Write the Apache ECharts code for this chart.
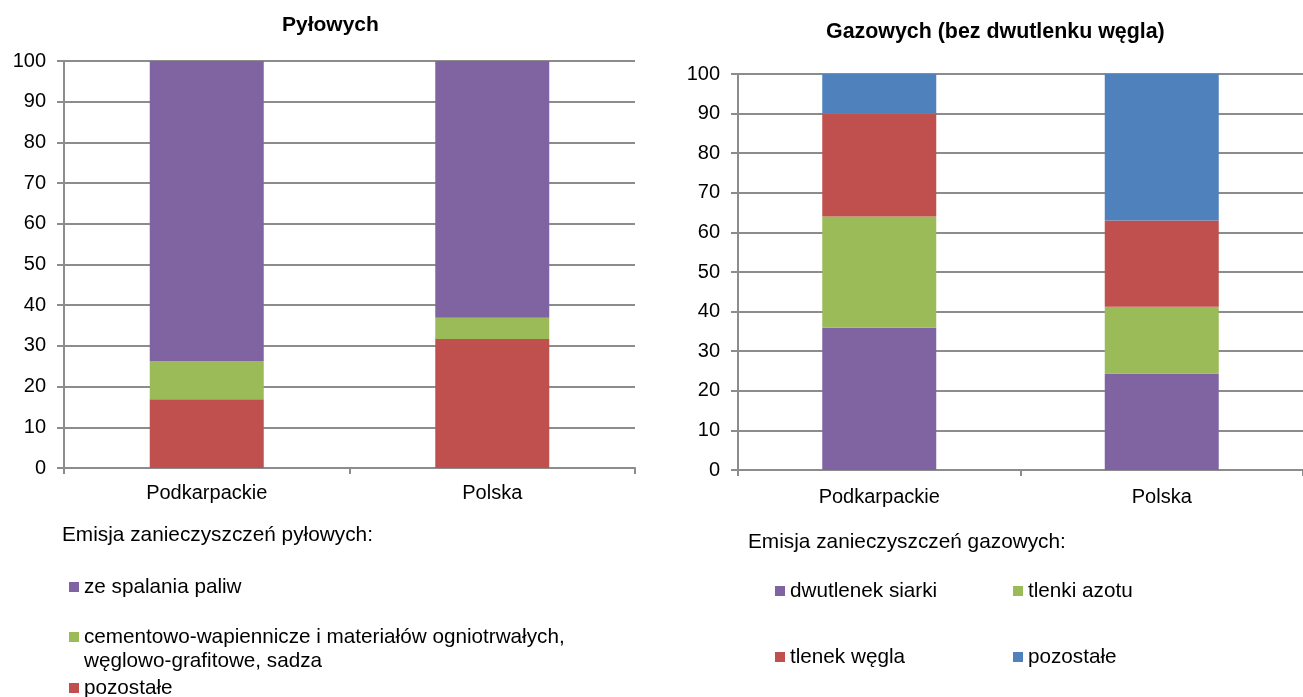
<!DOCTYPE html>
<html>
<head>
<meta charset="utf-8">
<script src="https://cdn.jsdelivr.net/npm/echarts@6/dist/echarts.min.js"></script>
<style>
  html, body { margin: 0; padding: 0; background: #fff; }
  #left { position: absolute; left: 0; top: 0; width: 660px; height: 697px; }
  #right { position: absolute; left: 660px; top: 0; width: 643px; height: 697px; }
</style>
</head>
<body>
<div id="left"></div>
<div id="right"></div>
<script>
// data (percent shares)
var categories = ['Podkarpackie', 'Polska'];

var dustNames = ['pozostałe', 'cementowo-wapiennicze i materiałów ogniotrwałych,\nwęglowo-grafitowe, sadza', 'ze spalania paliw'];
var dustOther = [16.9, 31.7];
var dustCement = [9.4, 5.2];
var dustFuel = [73.7, 63.1];

var gasNames = ['dwutlenek siarki', 'tlenki azotu', 'tlenek węgla', 'pozostałe'];
var gasSO2 = [35.9, 24.4];
var gasNOx = [28.1, 16.8];
var gasCO = [26.0, 21.8];
var gasOther = [10.0, 37.0];

var PURPLE = '#8064A2', GREEN = '#9BBB59', RED = '#C0504D', BLUE = '#4F81BD';
var GRID_GRAY = '#8c8c8c';
var FONT = 'Liberation Sans';

function axes(labelMargin) {
  return {
    xAxis: {
      type: 'category',
      data: categories,
      axisLine: { lineStyle: { color: GRID_GRAY, width: 2 } },
      axisTick: { show: true, length: 6, lineStyle: { color: GRID_GRAY, width: 2 } },
      axisLabel: { color: '#000', fontSize: 20, fontFamily: FONT, margin: labelMargin }
    },
    yAxis: {
      type: 'value',
      min: 0,
      max: 100,
      interval: 10,
      axisLine: { show: true, lineStyle: { color: GRID_GRAY, width: 2 } },
      axisTick: { show: true, length: 7, lineStyle: { color: GRID_GRAY, width: 2 } },
      axisLabel: { color: '#000', fontSize: 20, fontFamily: FONT, margin: 18 },
      splitLine: { lineStyle: { color: GRID_GRAY, width: 2 } }
    }
  };
}

function bar(name, values, color) {
  return {
    name: name,
    type: 'bar',
    stack: 'total',
    barWidth: 114,
    data: values,
    itemStyle: { color: color },
    emphasis: { disabled: true }
  };
}

function legendItem(name, left, top, formatter) {
  var l = {
    data: [name],
    left: left,
    top: top,
    padding: 0,
    icon: 'rect',
    itemWidth: 10,
    itemHeight: 10,
    selectedMode: false,
    textStyle: { color: '#000', fontSize: 20.7, fontFamily: FONT, lineHeight: 24 }
  };
  if (formatter) l.formatter = formatter;
  return l;
}

// left chart: pyłowych
var leftChart = echarts.init(document.getElementById('left'));
var la = axes(15);
leftChart.setOption({
  animation: false,
  title: [
    { text: 'Pyłowych', left: 282, top: 15, padding: 0,
      textStyle: { color: '#000', fontSize: 21, fontWeight: 'bold', fontFamily: FONT } },
    { text: 'Emisja zanieczyszczeń pyłowych:', left: 62, top: 525, padding: 0,
      textStyle: { color: '#000', fontSize: 20.8, fontWeight: 'normal', fontFamily: FONT } }
  ],
  grid: { left: 64, top: 61, width: 571, height: 407, containLabel: false },
  xAxis: la.xAxis,
  yAxis: la.yAxis,
  legend: [
    legendItem(dustNames[2], 69, 575),
    // empty first line keeps the marker on the first text line
    legendItem(dustNames[1], 69, 601, function (name) { return '\n' + name; }),
    legendItem(dustNames[0], 69, 676)
  ],
  series: [
    bar(dustNames[0], dustOther, RED),
    bar(dustNames[1], dustCement, GREEN),
    bar(dustNames[2], dustFuel, PURPLE)
  ]
});

// right chart: gazowych
var rightChart = echarts.init(document.getElementById('right'));
var ra = axes(17);
rightChart.setOption({
  animation: false,
  title: [
    { text: 'Gazowych (bez dwutlenku węgla)', left: 166, top: 22, padding: 0,
      textStyle: { color: '#000', fontSize: 21.4, fontWeight: 'bold', fontFamily: FONT } },
    { text: 'Emisja zanieczyszczeń gazowych:', left: 88, top: 532, padding: 0,
      textStyle: { color: '#000', fontSize: 20.8, fontWeight: 'normal', fontFamily: FONT } }
  ],
  grid: { left: 78, top: 74, width: 570, height: 396, containLabel: false },
  xAxis: ra.xAxis,
  yAxis: ra.yAxis,
  legend: [
    legendItem(gasNames[0], 115, 579),
    legendItem(gasNames[1], 353, 579),
    legendItem(gasNames[2], 115, 645),
    legendItem(gasNames[3], 353, 645)
  ],
  series: [
    bar(gasNames[0], gasSO2, PURPLE),
    bar(gasNames[1], gasNOx, GREEN),
    bar(gasNames[2], gasCO, RED),
    bar(gasNames[3], gasOther, BLUE)
  ]
});
</script>
</body>
</html>
